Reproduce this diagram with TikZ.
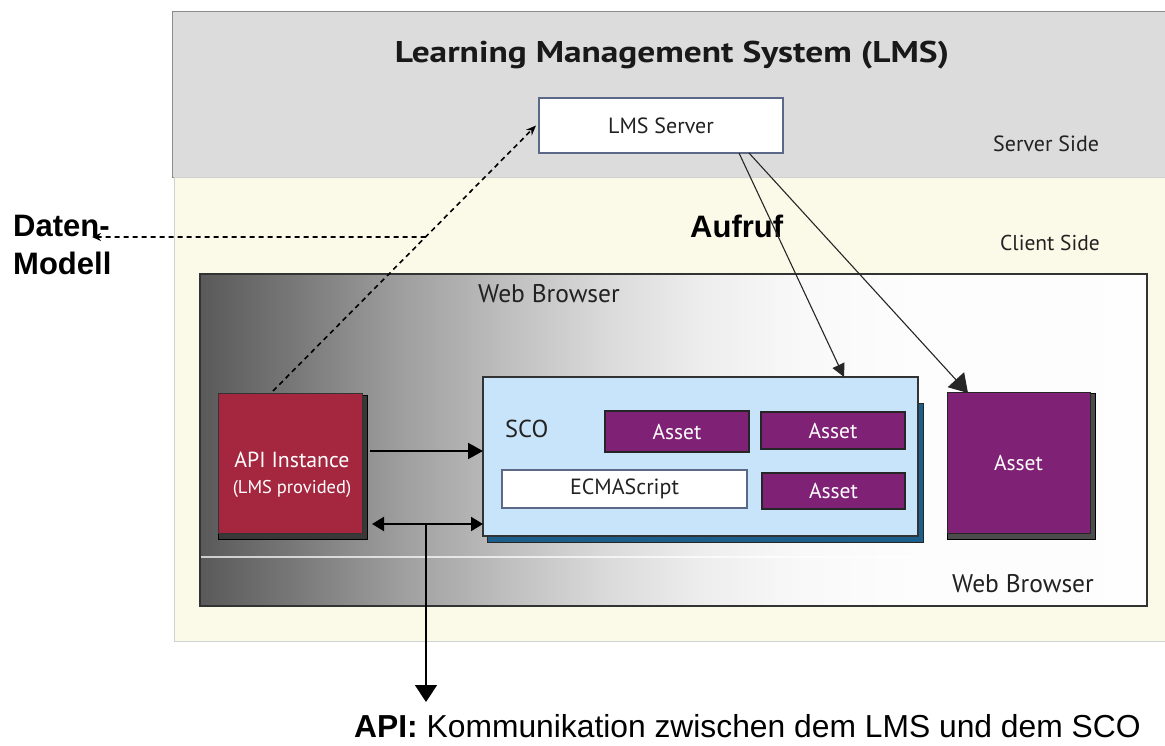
\documentclass[tikz,border=0pt]{standalone}
\usepackage{fontspec}
\setmainfont{PT Sans}
\newfontfamily\arialfont{Liberation Sans}
\usetikzlibrary{arrows.meta,calc}
\pgfdeclarelayer{background}
\pgfsetlayers{background,main}

\definecolor{serverbg}{HTML}{DCDCDC}
\definecolor{clientbg}{HTML}{FBFAE9}
\definecolor{apired}{HTML}{A5273F}
\definecolor{assetpurple}{HTML}{7F2276}
\definecolor{scoblue}{HTML}{C8E4FA}
\definecolor{scoshadow}{HTML}{1C5E8C}
\definecolor{serverframe}{HTML}{5C6888}
\definecolor{ink}{HTML}{222222}

\tikzset{
  fs/.style={font=\fontsize{#1}{#1}\selectfont},
  boxbase/.style={anchor=north west, inner sep=0pt, outer sep=0pt},
  sidelabel/.style={anchor=base west, inner sep=0pt, text=ink, fs=21.5},
  assetbox/.style={boxbase, draw=black!85, line width=1.3pt, fill=assetpurple, text=white, fs=21.5},
  whitebox/.style={boxbase, draw=serverframe, line width=1.2pt, fill=white, text=ink, fs=22},
  boldlabel/.style={anchor=base west, inner sep=0pt, font=\arialfont\bfseries\fontsize{31}{31}\selectfont},
  apiarrow/.style={line width=2pt, -{Triangle[length=15pt,width=16pt]}},
  apidouble/.style={line width=2pt, {Triangle[length=12pt,width=14pt]}-{Triangle[length=12pt,width=14pt]}},
  callarrow/.style={line width=1.1pt, draw=black!85},
  datadash/.style={line width=1.6pt, dash pattern=on 5pt off 4pt},
  notearrow/.style={line width=1.6pt, -{Triangle[length=17pt,width=22pt]}}
}

\begin{document}
\begin{tikzpicture}[x=1pt,y=-1pt]
\useasboundingbox (0,0) rectangle (1165,746);

% ---- boxes ----
\node[whitebox, minimum width=244pt, minimum height=55pt] (lms) at (539,98) {LMS Server};

\node[boxbase, fill=apired, draw=black!80, line width=1pt, minimum width=144pt, minimum height=140pt] (api) at (218,393) {};
\node[anchor=base, inner sep=0pt, text=white, fs=21.8] (apiname) at ($(api.north)+(2,74)$) {API Instance};
\node[anchor=base, inner sep=0pt, text=white, fs=18.5] (apisub) at ($(api.north)+(2,100)$) {(LMS provided)};

\node[boxbase, fill=scoblue, draw=black!80, line width=1.2pt, minimum width=435pt, minimum height=159pt] (sco) at (483,377) {};
\node[sidelabel, fs=24.5] (scolabel) at (505,437) {SCO};
\node[assetbox, minimum width=144pt, minimum height=41pt] (asset1) at (605,411) {Asset};
\node[assetbox, minimum width=144pt, minimum height=37pt] (asset2) at (761,412) {Asset};
\node[whitebox, minimum width=245pt, minimum height=38pt] (ecma) at (502,470) {ECMAScript};
\node[assetbox, minimum width=143pt, minimum height=36pt] (asset3) at (762,473) {Asset};

\node[assetbox, line width=1pt, minimum width=143pt, minimum height=141pt] (bigasset) at (947,392) {Asset};

% ---- labels ----
\node[anchor=base, inner sep=0pt, text=black!90, font=\bfseries\fontsize{30}{30}\selectfont] (title) at (672,63) {\scalebox{1.18}[1]{Learning Management System (LMS)}};
\node[sidelabel, fs=22] (serverside) at (993,152) {Server Side};
\node[sidelabel] (clientside) at (1000,251) {Client Side};
\node[sidelabel, fs=25.5] (browsertop) at (478,302) {Web Browser};
\node[sidelabel, fs=25.5] (browserbottom) at (952,592) {Web Browser};

\node[boldlabel] (daten) at (13,237) {Daten-};
\node[boldlabel] (modell) at (13,275) {Modell};
\node[boldlabel] (aufruf) at (690,238) {Aufruf};
\node[anchor=base west, inner sep=0pt, font=\arialfont\fontsize{31.8}{31.8}\selectfont] (note) at (354,737) {\textbf{API:} Kommunikation zwischen dem LMS und dem SCO};

% ---- connectors ----
\draw[apiarrow] ([xshift=8pt,yshift=12pt]api.east) -- ([yshift=12pt]api.east -| sco.west);
\draw[apidouble] ([xshift=10pt,yshift=-61pt]api.east) -- ([yshift=-61pt]api.east -| sco.west);
\coordinate (junction) at (426,524);
\coordinate (notetip) at (426,702);
\draw[notearrow] (junction) -- (notetip);

\coordinate (apiup) at ([xshift=-17pt,yshift=2pt]api.north);
\coordinate (lmsin) at ([xshift=-3pt]lms.west);
\draw[datadash, -{Stealth[length=10pt,width=8pt]}] (apiup) -- (lmsin);
\coordinate (levelA) at (0,237);
\coordinate (levelB) at (100,237);
\coordinate (split) at (intersection of apiup--lmsin and levelA--levelB);
\coordinate (datentip) at (92,237);
\draw[datadash, -{Stealth[length=9pt,width=8pt]}] (split) -- (datentip);

\draw[callarrow, -{Triangle[length=13pt,width=13pt]}] ([xshift=78pt]lms.south) -- ([xshift=143.5pt]sco.north);
\draw[callarrow, -{Triangle[length=18pt,width=22pt]}] ([xshift=88pt]lms.south) -- ([xshift=21pt,yshift=-1pt]bigasset.north west);

% ---- background: bands, browser window, shadows ----
\begin{pgfonlayer}{background}
  \fill[white] (0,0) rectangle (1165,746);
  \filldraw[fill=serverbg, draw=black!45, line width=1pt] (172,12) rectangle (1175,178);
  \filldraw[fill=clientbg, draw=black!18, line width=1pt] (174,178) rectangle (1175,641);
  \foreach \xa/\ca/\xb/\cb in {200/35/300/48, 300/48/400/62, 400/62/500/74, 500/74/600/85,
                               600/85/700/93, 700/93/800/97.5, 800/97.5/900/99, 900/99/1146/99.5}
    \shade[left color=white!\ca!black, right color=white!\cb!black] (\xa,274) rectangle (\xb+1,606);
  \draw[white, opacity=0.7, line width=1.5pt] (201,557) -- (1146,557);
  \draw[black!80, line width=1.5pt] (200,274) rectangle (1147,606);
  \filldraw[fill=black!78, draw=black, line width=0.8pt] ($(api.north west)+(0,2)$) rectangle ($(api.south east)+(5,6)$);
  \filldraw[fill=scoshadow, draw=black!85, line width=0.8pt] ($(sco.south west)+(4,6)$) rectangle ($(sco.north east)+(5,26)$);
  \filldraw[fill=black!70, draw=black, line width=0.8pt] ($(bigasset.north west)+(0,1)$) rectangle ($(bigasset.south east)+(5,6)$);
\end{pgfonlayer}
\end{tikzpicture}
\end{document}
